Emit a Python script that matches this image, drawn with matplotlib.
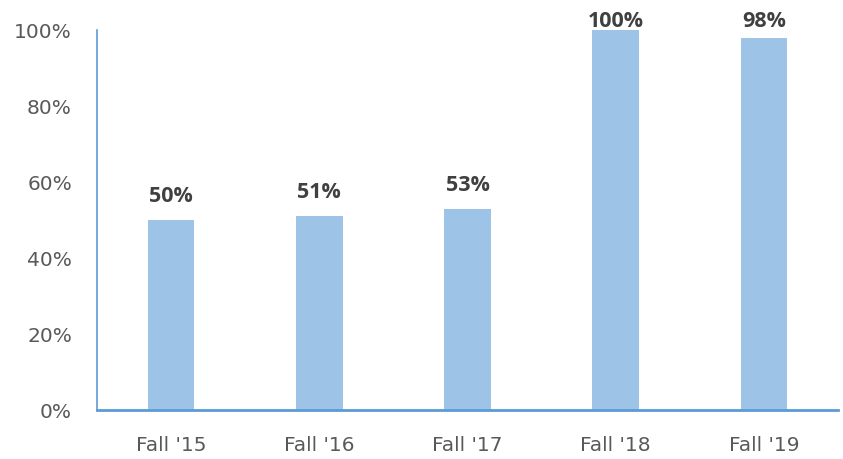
import matplotlib
matplotlib.use("Agg")
import matplotlib.pyplot as plt
from matplotlib.ticker import PercentFormatter

terms=["Fall '15","Fall '16","Fall '17","Fall '18","Fall '19"]
rates=[50,51,53,100,98]
yticks=[0,20,40,60,80,100]

plt.rcParams["font.family"]=["DejaVu Sans"]

fig=plt.figure(figsize=(8.43,4.6),dpi=100)
ax=fig.add_axes([97/843,(460-411)/460,(838-97)/843,(411-31)/460])

x=list(range(len(terms)))
ax.bar(x,rates,width=0.315,color="#9DC3E6",zorder=2)

# labels sit above the bars, but get pushed down near the top like excel does
for xi,v in zip(x,rates):
    ax.text(xi,min(v+5,101),f"{v}%",ha="center",va="baseline",
            fontsize=15.5,fontweight="bold",
            family=["Open Sans","DejaVu Sans"],color="#404040",clip_on=False)

ax.set_xlim(-0.5,len(terms)-0.5)
ax.set_ylim(0,100)
ax.set_yticks(yticks)
ax.yaxis.set_major_formatter(PercentFormatter(decimals=0))
ax.set_xticks(x)
ax.set_xticklabels(terms)

ax.tick_params(axis="both",length=0,labelsize=14.5,colors="#595959")
ax.tick_params(axis="y",pad=18)
ax.tick_params(axis="x",pad=18)

for s in ["top","right"]:
    ax.spines[s].set_visible(False)
ax.spines["left"].set_color("#5B9BD5")
ax.spines["left"].set_linewidth(1.2)
ax.spines["bottom"].set_color("#5B9BD5")
ax.spines["bottom"].set_linewidth(2)
ax.spines["bottom"].set_zorder(3)

fig.savefig("out.png",dpi=100)
